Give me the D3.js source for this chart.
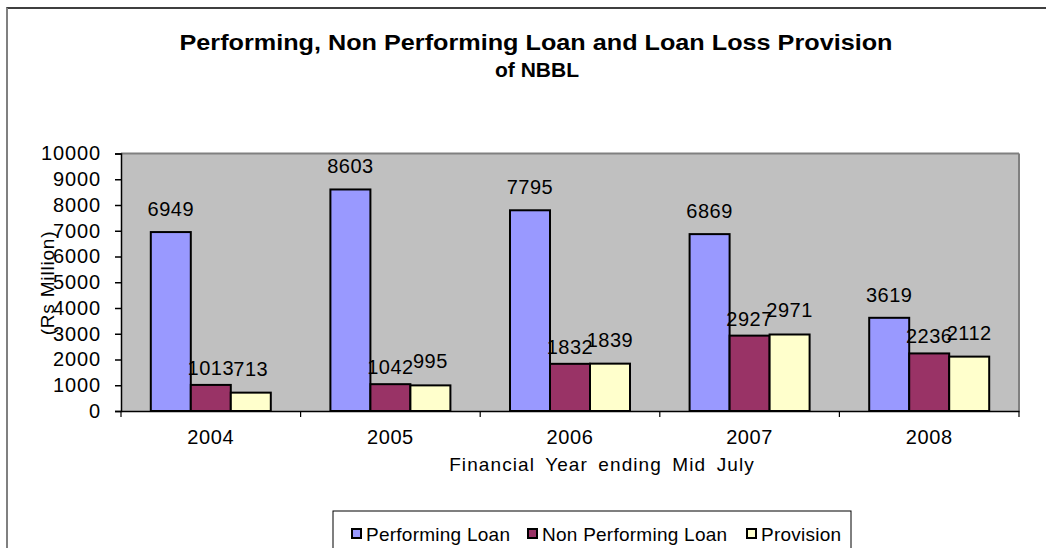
<!DOCTYPE html>
<html><head><meta charset="utf-8">
<script src="https://cdn.jsdelivr.net/npm/d3@7"></script>
<style>body{margin:0;background:#fff;} svg{display:block;font-family:"Liberation Sans",Arial,sans-serif;}</style>
</head><body>
<svg id="c" width="1046" height="548"></svg>
<script>
const years = ["2004","2005","2006","2007","2008"];
const seriesNames = ["Performing Loan","Non Performing Loan","Provision"];
const performing = [6949,8603,7795,6869,3619];
const nonPerforming = [1013,1042,1832,2927,2236];
const provision = [713,995,1839,2971,2112];
const yTicks = [0,1000,2000,3000,4000,5000,6000,7000,8000,9000,10000];
const colors = ["#9999FF","#993366","#FFFFCC"];
const labelGap = [16,10,17];
const FF = "'Liberation Sans', Arial, sans-serif";

const svg = d3.select("#c");
// outer chart border
svg.append("rect").attr("x",7).attr("y",8).attr("width",1060).attr("height",560)
  .attr("fill","#fff").attr("stroke","#000").attr("stroke-width",1.5);
svg.append("line").attr("x1",7).attr("x2",7).attr("y1",8).attr("y2",548).attr("stroke","#808080").attr("stroke-width",2);

const L=121,R=1019,T=153.5,B=411;
const x0 = d3.scaleBand().domain(years).range([L,R]).paddingInner(0).paddingOuter(0);
const inner = 120/179.6;
const x1 = d3.scaleBand().domain(seriesNames).range([0,x0.bandwidth()*inner]);
const y = d3.scaleLinear().domain([0,10000]).range([B,T]);

svg.append("rect").attr("x",L).attr("y",T).attr("width",R-L).attr("height",B-T).attr("fill","#C0C0C0");
svg.append("line").attr("x1",L).attr("x2",R).attr("y1",T).attr("y2",T).attr("stroke","#808080").attr("stroke-width",2);
svg.append("line").attr("x1",R).attr("x2",R).attr("y1",T).attr("y2",B).attr("stroke","#808080").attr("stroke-width",2);

const data = years.map((yr,i)=>({year:yr, vals:[performing[i],nonPerforming[i],provision[i]]}));
const off = x0.bandwidth()*(1-inner)/2;
const g = svg.selectAll("g.grp").data(data).join("g").attr("class","grp")
  .attr("transform",d=>`translate(${x0(d.year)+off},0)`);
g.selectAll("rect").data(d=>d.vals.map((v,k)=>({v,k}))).join("rect")
  .attr("x",d=>x1(seriesNames[d.k])).attr("width",x1.bandwidth())
  .attr("y",d=>y(d.v)).attr("height",d=>B-y(d.v))
  .attr("fill",d=>colors[d.k]).attr("stroke","#000").attr("stroke-width",2);
g.selectAll("text").data(d=>d.vals.map((v,k)=>({v,k}))).join("text")
  .attr("x",d=>x1(seriesNames[d.k])+x1.bandwidth()/2).attr("y",d=>y(d.v)-labelGap[d.k])
  .attr("text-anchor","middle").attr("font-size",20).attr("letter-spacing",0.5).attr("fill","#000")
  .text(d=>d.v);

// y axis
const ya = svg.append("g").attr("transform",`translate(${L},0)`)
  .call(d3.axisLeft(y).tickValues(yTicks).tickSize(6).tickPadding(14).tickFormat(d3.format("d")));
ya.select(".domain").attr("stroke","#000").attr("stroke-width",1.5);
ya.selectAll(".tick line").attr("stroke","#000").attr("stroke-width",1.5);
ya.selectAll(".tick text").attr("font-size",20).attr("letter-spacing",0.9).attr("fill","#000").attr("font-family",FF);

// x axis
const xa = svg.append("g").attr("transform",`translate(0,${B})`)
  .call(d3.axisBottom(x0).tickSize(0).tickPadding(19));
xa.select(".domain").attr("stroke","#000").attr("stroke-width",1.5);
xa.selectAll(".tick text").attr("font-size",20).attr("letter-spacing",0.6).attr("fill","#000").attr("font-family",FF);
svg.append("g").selectAll("line").data(years.concat(["end"])).join("line")
  .attr("x1",(d,i)=>L+i*x0.step()).attr("x2",(d,i)=>L+i*x0.step())
  .attr("y1",B).attr("y2",B+6).attr("stroke","#000").attr("stroke-width",1.2);

// axis titles
svg.append("text").attr("x",602).attr("y",471).attr("text-anchor","middle")
  .attr("font-size",19).attr("word-spacing",4).attr("letter-spacing",1.1).text("Financial Year ending Mid July");
svg.append("text").attr("transform","translate(54,283) rotate(-90)").attr("text-anchor","middle")
  .attr("font-size",19).attr("letter-spacing",0.8).text("(Rs Million)");

// title
svg.append("text").attr("x",536).attr("y",50).attr("text-anchor","middle").attr("font-weight","bold")
  .attr("font-size",22).attr("textLength",713).attr("lengthAdjust","spacingAndGlyphs")
  .text("Performing, Non Performing Loan and Loan Loss Provision");
svg.append("text").attr("x",537).attr("y",77).attr("text-anchor","middle").attr("font-weight","bold")
  .attr("font-size",21).text("of NBBL");

// legend
svg.append("rect").attr("x",333).attr("y",511).attr("width",518).attr("height",50)
  .attr("fill","#fff").attr("stroke","#000").attr("stroke-width",1);
const legX = [351,527,746];
const lg = svg.selectAll("g.leg").data(seriesNames).join("g").attr("class","leg")
  .attr("transform",(d,i)=>`translate(${legX[i]},0)`);
lg.append("rect").attr("x",1).attr("y",529).attr("width",9).attr("height",9)
  .attr("fill",(d,i)=>colors[i]).attr("stroke","#000").attr("stroke-width",2);
lg.append("text").attr("x",15).attr("y",541).attr("font-size",19).attr("letter-spacing",0.25).text(d=>d);
</script>
</body></html>
